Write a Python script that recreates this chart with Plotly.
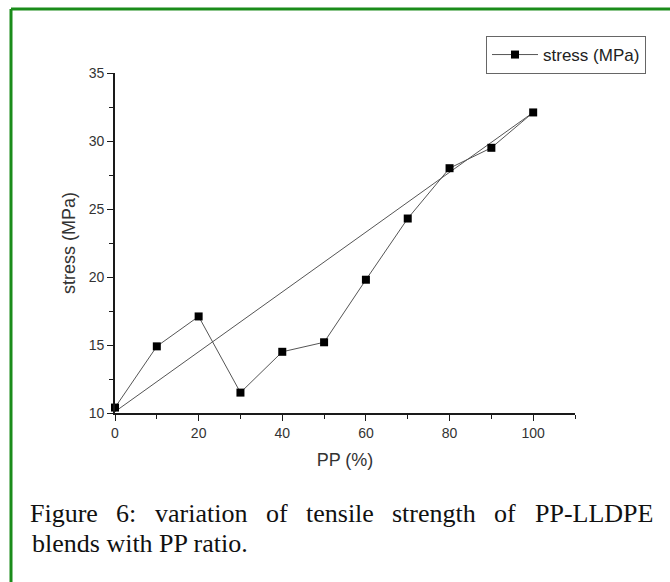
import plotly.graph_objects as go

pp = [0, 10, 20, 30, 40, 50, 60, 70, 80, 90, 100]
stress = [10.4, 14.9, 17.1, 11.5, 14.5, 15.2, 19.8, 24.3, 28.0, 29.5, 32.1]
trend_x = [0, 100]
trend_y = [10.1, 32.1]

caption_line1 = ["Figure", "6:", "variation", "of", "tensile", "strength", "of", "PP-LLDPE"]
caption_line2 = "blends with PP ratio."

W, H = 670, 582
L, R, T, B = 115, 575, 73, 413

def px(x):
    return (x - L) / (R - L)

def py(y):
    return (B - y) / (B - T)

fig = go.Figure()
fig.add_trace(go.Scatter(x=trend_x, y=trend_y, mode="lines",
                         line=dict(color="#555555", width=1),
                         showlegend=False, hoverinfo="skip"))
fig.add_trace(go.Scatter(x=pp, y=stress, mode="lines+markers", name="stress (MPa)",
                         line=dict(color="#555555", width=1),
                         marker=dict(symbol="square", size=8, color="#000000"),
                         cliponaxis=False))

axis_common = dict(showline=True, linecolor="#1a1a1a", linewidth=1.6,
                   ticks="outside", ticklen=6, tickwidth=1.4, tickcolor="#1a1a1a",
                   showgrid=False, zeroline=False,
                   tickfont=dict(family="Liberation Sans, Arial, sans-serif", size=14, color="#333333"))

fig.update_layout(
    width=W, height=H,
    margin=dict(l=L, r=W - R, t=T, b=H - B),
    paper_bgcolor="white", plot_bgcolor="white",
    xaxis=dict(range=[0, 110], tick0=0, dtick=20,
               minor=dict(ticks="outside", ticklen=4, dtick=10, tickcolor="#1a1a1a", tickwidth=1.2),
               title=dict(text="PP (%)", standoff=14,
                          font=dict(family="Liberation Sans, Arial, sans-serif", size=18, color="#333333")),
               **axis_common),
    yaxis=dict(range=[10, 35], tick0=10, dtick=5,
               minor=dict(ticks="outside", ticklen=4, dtick=2.5, tickcolor="#1a1a1a", tickwidth=1.2),
               title=dict(text="stress (MPa)", standoff=9,
                          font=dict(family="Liberation Sans, Arial, sans-serif", size=18, color="#333333")),
               **axis_common),
    legend=dict(x=px(486), y=py(36), xanchor="left", yanchor="top",
                bordercolor="#666666", borderwidth=1, bgcolor="white",
                font=dict(family="Liberation Sans, Arial, sans-serif", size=17, color="#222222"),
                itemwidth=46, tracegroupgap=0),
    showlegend=True,
)

# green frame (left and top edges visible)
fig.add_shape(type="line", xref="paper", yref="paper",
              x0=px(11), x1=px(11), y0=py(9), y1=py(600),
              line=dict(color="#1a8c1a", width=3))
fig.add_shape(type="line", xref="paper", yref="paper",
              x0=px(11), x1=px(700), y0=py(9), y1=py(9),
              line=dict(color="#1a8c1a", width=3))

# justified first caption line: approximate Times-metric word widths (em/1000)
cap_size = 26
widths = {"Figure": 2611, "6:": 778, "variation": 3555, "of": 833, "tensile": 2611,
          "strength": 3222, "PP-LLDPE": 4556}
word_px = [widths[w] * cap_size / 1000 for w in caption_line1]
left_edge, right_edge = 30, 653
gap = (right_edge - left_edge - sum(word_px)) / (len(caption_line1) - 1)
cap_font = dict(family="Liberation Serif, Times New Roman, serif", size=cap_size, color="#111111")
xpos = left_edge
for word, wpx in zip(caption_line1, word_px):
    fig.add_annotation(text=word, x=px(xpos + wpx / 2), y=py(513), xref="paper", yref="paper",
                       xanchor="center", yanchor="middle", showarrow=False, font=cap_font)
    xpos += wpx + gap
fig.add_annotation(text=caption_line2, x=px(30), y=py(543), xref="paper", yref="paper",
                   xanchor="left", yanchor="middle", showarrow=False, font=cap_font)

fig.write_html("out.html")
